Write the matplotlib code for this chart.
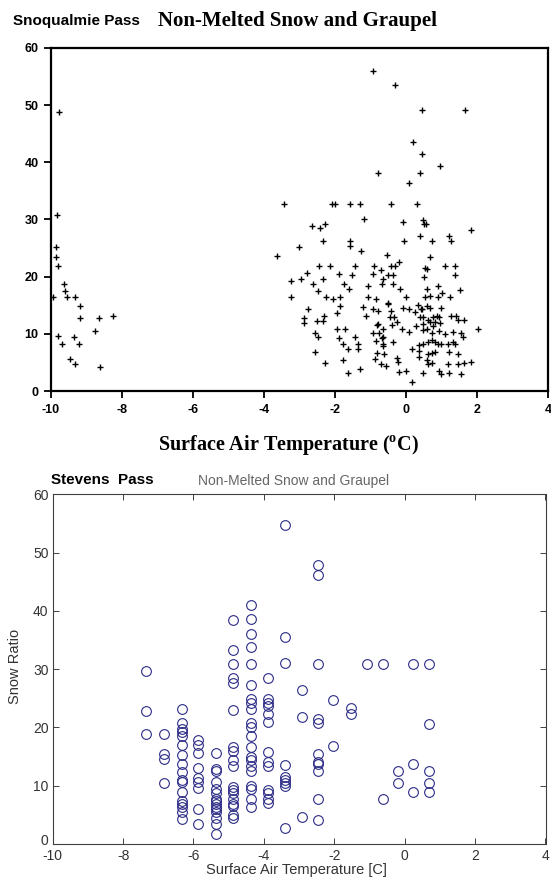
import numpy as np
import matplotlib
matplotlib.use("Agg")
import matplotlib.pyplot as plt
from matplotlib.transforms import ScaledTranslation

plt.rcParams['axes.unicode_minus'] = False
plt.rcParams['mathtext.fontset'] = 'custom'
plt.rcParams['mathtext.rm'] = 'Liberation Serif:bold'

# Snoqualmie Pass: surface temperature (C) and snow ratio
snoq_cold_temp = [-9.78, -9.84, -9.85, -9.86, -9.81, -9.64, -9.61, -9.56, -9.94, -9.31,
                  -9.17, -9.19, -8.66, -8.24, -8.75, -9.80, -9.68, -9.36, -9.22, -9.47,
                  -9.31, -8.61]
snoq_cold_ratio = [48.8, 30.8, 25.2, 23.4, 21.9, 18.7, 17.5, 16.5, 16.5, 16.5,
                   14.9, 12.7, 12.7, 13.1, 10.5, 9.6, 8.2, 9.4, 8.2, 5.6,
                   4.8, 4.2]

snoq_warm_temp = [
    -0.94, -0.31, 0.44, 1.67, 0.20, 0.44, 0.95, -0.78, 0.39, 0.08,
    -0.43, 0.32, -0.08, 0.47, 0.50, 0.56, 1.82, 0.39, 1.21,
    -3.44, -2.08, -1.99, -1.57, -1.29, -1.18, -2.66, -2.43, -2.27,
    -2.35, -1.57, -1.57, -3.02, -1.26, -3.62, -0.54,
    -2.44, -2.15, -1.43, -0.89, -2.80, -1.90, -1.52, -0.92, -0.71,
    -3.25, -2.97, -2.35, -2.62, -1.75, -1.08, -0.68, -0.64, -2.48, -1.60,
    -3.25, -2.24, -2.06, -1.87, -1.06, -0.85,
    -1.87, -1.20, -0.92, -0.80, -2.76, -1.94, -1.12,
    -2.86, -2.86, -2.52, -2.35, -2.32, -0.82, -1.94, -1.71,
    -2.55, -2.48, -0.92, -0.75, -0.64, -1.90, -1.78, -1.45, -0.85, -0.68, -0.64,
    -1.64, -1.36, -1.36, -2.55, -0.82, -0.62,
    -1.78, -0.87, -2.27, -0.71, -0.56, -1.29, -1.64,
    -0.06, 0.74, 1.26, 0.69, -0.19, -0.43, -0.31, 0.53, 0.58, 1.11, 1.37,
    -0.50, -0.36, 1.39, 0.51, -0.36, 0.90, -0.17, 0.60, 1.51, 1.02,
    0.00, 0.53, 0.69, 0.90, 1.23,
    -0.51, -0.50, 0.34, 0.41, 0.58, 0.69, 0.46, 1.00, -0.09, 0.08,
    -0.43, -0.45, -0.34, -0.26, -0.40,
    0.25, 0.39, 0.48, 0.76, 0.86, 0.92, 1.26, 1.42, 1.46, 1.62,
    0.61, 0.69, 0.81, 0.95, 0.48, -0.78,
    -0.10, 0.08, 0.28, 0.48, 0.58, 0.72, 0.92, 1.11, 0.76, 1.32, 1.56, 1.60, 2.03,
    -0.66, -0.66, -0.38,
    0.36, 0.48, 0.62, 0.72, 0.83, 0.90, 1.00, 1.18, 1.32, 1.39,
    1.20, 1.46, 0.18, 0.36, 0.62, 0.72, 0.81,
    -0.26, -0.22, 0.37, 0.58, 0.72, 0.61, 1.18, 1.46, 1.63, 1.82,
    -0.20, 0.00, 0.48, 0.93, 0.98, 1.21, 1.56, 0.16,
]
snoq_warm_ratio = [
    56.0, 53.5, 49.1, 49.1, 43.5, 41.5, 39.3, 38.1, 38.1, 36.4,
    32.7, 32.7, 29.5, 29.9, 29.2, 29.2, 28.1, 27.2, 27.2,
    32.7, 32.7, 32.7, 32.7, 32.7, 30.1, 28.8, 28.5, 29.2,
    26.3, 26.3, 25.4, 25.2, 24.5, 23.6, 23.8,
    21.9, 21.9, 21.9, 21.9, 20.7, 20.5, 20.3, 20.5, 21.2,
    19.2, 19.6, 19.6, 18.7, 18.7, 18.4, 18.7, 19.6, 17.5, 17.8,
    16.5, 16.5, 16.1, 16.5, 16.5, 16.1,
    14.9, 14.7, 14.4, 14.0, 14.3, 13.6, 13.2,
    12.7, 11.9, 12.2, 12.2, 13.2, 11.5, 10.9, 10.9,
    10.2, 9.4, 10.2, 10.2, 10.9, 9.2, 8.2, 9.4, 8.8, 9.2, 7.9,
    7.3, 8.2, 7.3, 6.8, 6.6, 6.4,
    5.5, 5.6, 4.9, 4.7, 4.4, 3.9, 3.2,
    26.3, 26.3, 26.3, 23.4, 22.5, 21.8, 21.8, 21.6, 21.3, 21.8, 21.8,
    20.3, 20.3, 20.3, 20.0, 18.7, 18.4, 17.8, 17.9, 17.7, 17.1,
    16.4, 16.4, 16.7, 16.4, 16.5,
    15.4, 15.2, 15.0, 14.3, 14.9, 14.6, 14.4, 14.6, 14.6, 14.3,
    14.0, 13.0, 12.9, 12.1, 11.5,
    13.9, 13.0, 12.9, 13.0, 13.1, 12.9, 13.1, 13.1, 12.5, 12.4,
    12.4, 12.1, 12.1, 11.9, 11.7, 11.8,
    10.9, 10.4, 11.3, 10.6, 10.9, 10.2, 10.5, 9.9, 11.3, 10.4, 10.2, 9.5, 10.9,
    9.5, 8.2, 8.6,
    8.1, 8.3, 8.6, 8.9, 8.6, 8.3, 8.2, 8.2, 8.6, 8.3,
    6.8, 6.4, 7.3, 7.0, 6.4, 6.7, 6.8,
    5.7, 5.1, 6.0, 5.4, 4.9, 4.8, 4.8, 4.8, 4.9, 5.1,
    3.3, 3.5, 3.2, 3.5, 2.9, 3.2, 2.9, 1.5,
]

# Stevens Pass: temperatures come in columns, snow ratios per column
stevens_cols = [-7.35, -6.84, -6.34, -5.86, -5.36, -4.87, -4.38, -3.87, -3.40,
                -2.93, -2.45, -2.03, -1.53, -1.08, -0.62, -0.20, 0.24, 0.70]
stevens_ratios = [
    [29.6, 22.9, 18.9],
    [18.9, 15.4, 14.5, 10.4],
    [23.2, 20.7, 19.8, 19.3, 18.5, 17.0, 15.3, 13.7, 12.4, 11.0, 10.7, 8.9, 7.3, 6.9, 6.4, 5.5, 4.3],
    [17.8, 17.0, 15.6, 13.1, 11.3, 10.7, 9.6, 6.0, 3.5],
    [15.6, 12.8, 12.6, 10.7, 9.4, 8.7, 7.8, 7.3, 6.9, 6.4, 6.0, 5.5, 4.4, 3.5, 1.8],
    [38.5, 33.3, 30.9, 28.4, 27.6, 23.0, 16.6, 16.0, 14.4, 13.3, 9.8, 9.3, 8.7, 7.8, 6.9, 6.5, 5.0, 4.4],
    [41.0, 38.6, 36.0, 33.8, 30.9, 27.3, 24.8, 24.2, 23.1, 20.8, 20.1, 18.5, 16.6, 15.0, 14.4,
     13.3, 12.6, 9.9, 9.4, 7.8, 6.4],
    [28.4, 24.8, 24.2, 23.6, 22.3, 20.9, 15.7, 14.1, 13.3, 9.3, 8.7, 7.8, 7.0],
    [54.7, 35.5, 31.0, 13.6, 11.5, 11.0, 10.4, 9.9, 2.7],
    [26.4, 21.8, 4.7],
    [47.9, 46.1, 30.9, 21.4, 20.7, 15.4, 14.0, 13.7, 12.6, 7.8, 4.2],
    [24.7, 16.8],
    [23.3, 22.3],
    [30.9],
    [30.9, 7.8],
    [12.6, 10.4],
    [30.9, 13.7, 9.0],
    [30.9, 20.6, 12.6, 10.4, 9.0],
]

xticks = [-10, -8, -6, -4, -2, 0, 2, 4]
yticks = [0, 10, 20, 30, 40, 50, 60]

W, H = 551, 880
fig = plt.figure(figsize=(W / 100, H / 100), dpi=100)

# ---- top panel: Snoqualmie Pass
ax1 = fig.add_axes([51 / W, (H - 391) / H, 497 / W, 343 / H])
ax1.plot(snoq_cold_temp + snoq_warm_temp, snoq_cold_ratio + snoq_warm_ratio,
         '+', color='black', markersize=4.5, mew=1.0, clip_on=False)
ax1.set_xlim(-10, 4)
ax1.set_ylim(0, 60)
ax1.set_xticks(xticks)
ax1.set_yticks(yticks)
for s in ax1.spines.values():
    s.set_linewidth(1.6)
ax1.tick_params(direction='out', length=5, width=1.3, pad=4, labelsize=9)
for lab in ax1.get_xticklabels() + ax1.get_yticklabels():
    lab.set_fontfamily('Liberation Sans')
    lab.set_fontweight('heavy')

fig.text(13 / W, 1 - 21 / H, 'Snoqualmie Pass', fontfamily='Liberation Sans',
         fontweight='bold', fontsize=11, ha='left', va='center')
fig.text(158 / W, 1 - 21 / H, 'Non-Melted Snow and Graupel', fontfamily='Liberation Serif',
         fontweight='bold', fontsize=15, ha='left', va='center')
fig.text(288 / W, 1 - 445 / H, r'Surface Air Temperature ($^{\mathrm{o}}$C)',
         fontfamily='Liberation Serif', fontweight='bold', fontsize=14.5,
         ha='center', va='center')

# ---- bottom panel: Stevens Pass (matlab style)
st_temp = np.repeat(stevens_cols, [len(r) for r in stevens_ratios])
st_ratio = np.concatenate(stevens_ratios)

ax2 = fig.add_axes([52.7 / W, 36 / H, 492.8 / W, 349.7 / H])
ax2.plot(st_temp, st_ratio, 'o', mfc='none', mec='#2a2a86', markersize=7, mew=0.8)
ax2.set_xlim(-10, 4)
ax2.set_ylim(0, 60)
ax2.set_xticks(xticks)
ax2.set_yticks(yticks)
for s in ax2.spines.values():
    s.set_linewidth(0.8)
    s.set_color('#404040')
ax2.tick_params(direction='in', top=True, right=True, length=4, width=0.7,
                color='#404040', labelcolor='#333333', labelsize=10)
ax2.tick_params(axis='x', pad=3.5)
ax2.tick_params(axis='y', pad=3)
for lab in ax2.get_xticklabels() + ax2.get_yticklabels():
    lab.set_fontfamily('Liberation Sans')
# lift the "0" a little so it sits clear of "-10"
zero_lab = ax2.get_yticklabels()[0]
zero_lab.set_transform(zero_lab.get_transform() +
                       ScaledTranslation(0, 3.5 / 72, fig.dpi_scale_trans))

fig.text(51 / W, 1 - 480 / H, 'Stevens  Pass', fontfamily='Liberation Sans',
         fontweight='bold', fontsize=11, ha='left', va='center')
fig.text(198 / W, 1 - 481 / H, 'Non-Melted Snow and Graupel', fontfamily='Liberation Sans',
         fontsize=10, color='#666666', ha='left', va='center')
fig.text(15 / W, 1 - 666 / H, 'Snow Ratio', fontfamily='Liberation Sans', fontsize=10.5,
         color='#333333', rotation=90, ha='center', va='center')
fig.text(296 / W, 1 - 870 / H, 'Surface Air Temperature [C]', fontfamily='Liberation Sans',
         fontsize=10.5, color='#333333', ha='center', va='center')

fig.savefig('out.png', dpi=100)
